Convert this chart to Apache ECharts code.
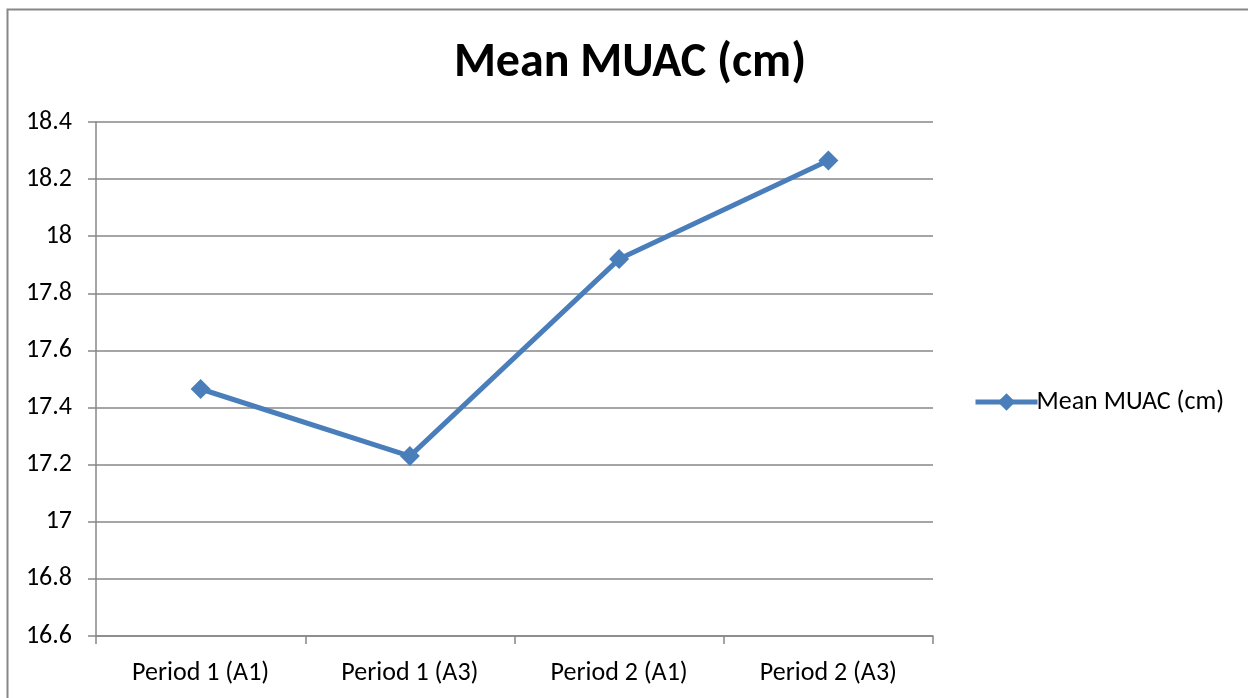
<!DOCTYPE html>
<html>
<head>
<meta charset="utf-8">
<script src="https://cdn.jsdelivr.net/npm/echarts@6/dist/echarts.min.js"></script>
<style>
  html, body { margin: 0; padding: 0; background: #fff; }
  #main { width: 1248px; height: 698px; }
</style>
</head>
<body>
<div id="main"></div>
<script>
  // data
  const categories = ['Period 1 (A1)', 'Period 1 (A3)', 'Period 2 (A1)', 'Period 2 (A3)']
  const muacValues = [17.465, 17.23, 17.92, 18.265]
  const seriesName = 'Mean MUAC (cm)'

  const font = 'Carlito, "Open Sans", "Noto Sans", sans-serif'
  const myChart = echarts.init(document.getElementById('main'))

  const option = {
    backgroundColor: '#fff',
    animation: false,
    // outer chart frame
    graphic: [{
      type: 'rect',
      shape: { x: 7.5, y: 9.5, width: 1250, height: 700 },
      style: { fill: 'none', stroke: '#878787', lineWidth: 2 }
    }],
    title: {
      text: 'Mean MUAC (cm)',
      left: 625,
      top: 35,
      textAlign: 'center',
      textStyle: { fontFamily: font, fontWeight: 'bold', fontSize: 48, color: '#000' }
    },
    legend: {
      data: [seriesName],
      orient: 'vertical',
      left: 968,
      top: 384,
      itemWidth: 62,
      itemHeight: 22,
      itemGap: 4,
      lineStyle: { width: 5 },
      textStyle: { fontFamily: font, fontSize: 26, color: '#000', padding: [0, 0, 0, -6] }
    },
    grid: { left: 96, top: 122, right: 315, bottom: 62 },
    xAxis: {
      type: 'category',
      data: categories,
      boundaryGap: true,
      axisLine: { show: true, lineStyle: { color: '#878787', width: 1.5 } },
      axisTick: { show: true, length: 8, alignWithLabel: false, lineStyle: { color: '#878787', width: 1.5 } },
      axisLabel: { fontFamily: font, fontSize: 26, color: '#000', margin: 24, interval: 0 },
      splitLine: { show: false }
    },
    yAxis: {
      type: 'value',
      min: 16.6,
      max: 18.4,
      interval: 0.2,
      axisLine: { show: true, lineStyle: { color: '#878787', width: 1.5 } },
      axisTick: { show: true, inside: false, length: 8, lineStyle: { color: '#878787', width: 1.5 } },
      axisLabel: {
        fontFamily: font, fontSize: 26, color: '#000', margin: 24,
        formatter: v => String(Math.round(v * 10) / 10)
      },
      splitLine: { show: true, lineStyle: { color: '#878787', width: 1.5 } }
    },
    series: [{
      name: seriesName,
      type: 'line',
      data: muacValues,
      color: '#4A7EBB',
      symbol: 'diamond',
      symbolSize: 20,
      lineStyle: { width: 5, color: '#4A7EBB' },
      itemStyle: { color: '#4A7EBB' }
    }]
  }

  myChart.setOption(option)
</script>
</body>
</html>
